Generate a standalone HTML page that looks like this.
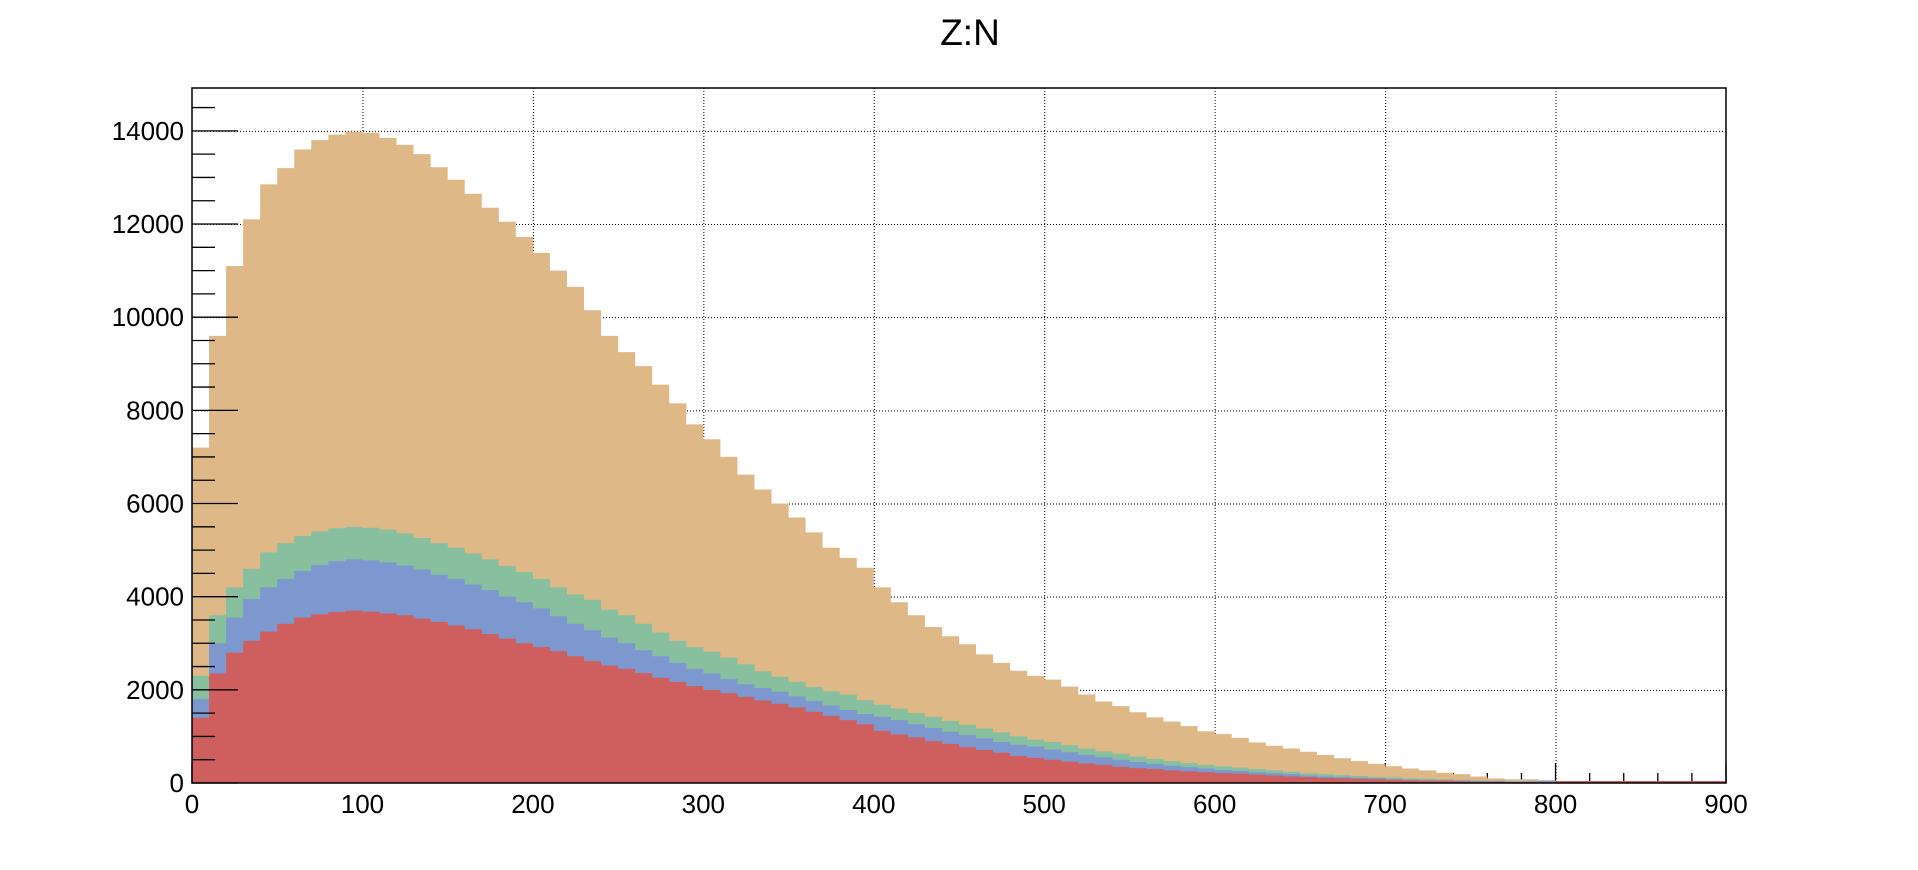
<!DOCTYPE html>
<html><head><meta charset="utf-8"><title>Z:N</title>
<style>
html,body{margin:0;padding:0;background:#fff;}
svg{display:block;font-family:"Liberation Sans",Arial,sans-serif;}
</style></head>
<body>
<svg id="chart" width="1918" height="870" viewBox="0 0 1918 870">
<text x="970" y="45" font-size="37" text-anchor="middle" fill="#000">Z:N</text>
<g id="grid"></g>
<g id="xticks"></g>
<g id="bars"></g>
<g id="axes"></g>
</svg>
<script>
// Bin edges: 10-unit bins from 0 to 800. Values in thousands of entries, cumulative stack tops.
const binStart = 0;
const binWidth = 10;
const stackOrange = [7.2,9.6,11.1,12.1,12.85,13.2,13.6,13.8,13.92,13.98,13.96,13.85,13.7,13.5,13.22,12.95,12.65,12.35,12.05,11.72,11.38,11.0,10.65,10.15,9.6,9.25,8.95,8.55,8.15,7.7,7.38,7.0,6.62,6.3,6.0,5.7,5.38,5.05,4.83,4.62,4.2,3.88,3.6,3.35,3.15,2.98,2.76,2.58,2.41,2.3,2.22,2.07,1.9,1.75,1.65,1.52,1.41,1.32,1.22,1.11,1.05,0.97,0.87,0.8,0.74,0.67,0.6,0.53,0.47,0.41,0.36,0.31,0.27,0.22,0.19,0.14,0.1,0.08,0.08,0.06];
const stackGreen = [2.3,3.6,4.2,4.6,4.95,5.15,5.3,5.4,5.47,5.5,5.48,5.44,5.36,5.26,5.15,5.05,4.93,4.8,4.66,4.53,4.38,4.2,4.05,3.93,3.72,3.6,3.42,3.23,3.05,2.92,2.82,2.69,2.55,2.4,2.28,2.17,2.06,1.97,1.9,1.78,1.68,1.6,1.5,1.42,1.33,1.25,1.17,1.09,1.0,0.93,0.88,0.81,0.74,0.68,0.63,0.57,0.52,0.47,0.43,0.39,0.36,0.33,0.3,0.27,0.24,0.21,0.19,0.17,0.15,0.13,0.12,0.1,0.09,0.08,0.07,0.06,0.05,0.04,0.04,0.03];
const stackBlue = [1.8,3.0,3.55,3.95,4.2,4.38,4.55,4.68,4.76,4.8,4.78,4.74,4.67,4.58,4.47,4.38,4.26,4.14,4.0,3.88,3.75,3.58,3.42,3.28,3.12,3.0,2.85,2.72,2.58,2.45,2.35,2.23,2.12,2.04,1.96,1.86,1.76,1.66,1.57,1.48,1.42,1.35,1.26,1.18,1.1,1.03,0.96,0.88,0.82,0.78,0.72,0.66,0.6,0.55,0.5,0.45,0.41,0.37,0.34,0.31,0.28,0.26,0.23,0.21,0.19,0.16,0.14,0.13,0.11,0.1,0.08,0.07,0.06,0.06,0.05,0.04,0.04,0.03,0.04,0.05];
const stackRed = [1.4,2.35,2.8,3.05,3.25,3.42,3.55,3.62,3.67,3.7,3.68,3.64,3.6,3.53,3.46,3.38,3.3,3.2,3.1,3.0,2.92,2.83,2.72,2.62,2.52,2.45,2.36,2.26,2.17,2.08,2.0,1.93,1.85,1.77,1.7,1.62,1.53,1.44,1.35,1.26,1.12,1.04,0.98,0.9,0.84,0.77,0.71,0.65,0.58,0.54,0.5,0.46,0.42,0.39,0.35,0.32,0.3,0.27,0.25,0.23,0.21,0.2,0.18,0.16,0.14,0.13,0.11,0.1,0.09,0.08,0.07,0.06,0.05,0.05,0.04,0.03,0.03,0.02,0.02,0.02];
const xTicks = [0,100,200,300,400,500,600,700,800,900];
const yTicks = [0,2000,4000,6000,8000,10000,12000,14000];
const UNIT = 1000;

const X0=192, X1=1726, Y0=783, Y1=88;
const XMIN=0, XMAX=900, YMIN=0, YMAX=14920;
const sx = v => X0 + (v-XMIN)/(XMAX-XMIN)*(X1-X0);
const sy = v => Y0 - (v-YMIN)/(YMAX-YMIN)*(Y0-Y1);
const NS='http://www.w3.org/2000/svg';
function mk(tag, parent){const e=document.createElementNS(NS,tag);parent.appendChild(e);return e;}

const grid=document.getElementById('grid');
xTicks.forEach(t=>{ if(t===XMIN||t===XMAX) return;
  const l=mk('line',grid);
  l.setAttribute('x1',sx(t)+0.5);l.setAttribute('x2',sx(t)+0.5);l.setAttribute('y1',Y1);l.setAttribute('y2',Y0);
  l.setAttribute('stroke','#000');l.setAttribute('stroke-width','1');l.setAttribute('stroke-dasharray','1 2');
  
  
});
yTicks.forEach(t=>{ if(t===YMIN) return;
  const l=mk('line',grid);
  l.setAttribute('x1',X0);l.setAttribute('x2',X1);l.setAttribute('y1',sy(t)+0.5);l.setAttribute('y2',sy(t)+0.5);
  l.setAttribute('stroke','#000');l.setAttribute('stroke-width','1');l.setAttribute('stroke-dasharray','1 2');
  
  
});

const xt=document.getElementById('xticks');
for(let v=0; v<=XMAX; v+=20){
  const major=(v%100===0);
  const l=mk('line',xt);
  l.setAttribute('x1',sx(v));l.setAttribute('x2',sx(v));l.setAttribute('y1',Y0);l.setAttribute('y2',Y0-(major?20:10));
  l.setAttribute('stroke','#000');l.setAttribute('stroke-width','1.3');
  
  
}

const bars=document.getElementById('bars');
const series=[
 {vals:stackOrange,color:'#deb887',name:'histogram-orange'},
 {vals:stackGreen,color:'#87bf9f',name:'histogram-green'},
 {vals:stackBlue,color:'#7c98cf',name:'histogram-blue'},
 {vals:stackRed,color:'#cf5e5f',name:'histogram-red'}
];
series.forEach(s=>{
  let d='M'+sx(binStart)+','+sy(0);
  s.vals.forEach((v,i)=>{
    const xa=sx(binStart+i*binWidth), xb=sx(binStart+(i+1)*binWidth), y=sy(v*UNIT);
    d+=' L'+xa.toFixed(2)+','+y.toFixed(2)+' L'+xb.toFixed(2)+','+y.toFixed(2);
  });
  d+=' L'+sx(binStart+s.vals.length*binWidth)+','+sy(0)+' Z';
  const p=mk('path',bars);
  p.setAttribute('d',d);p.setAttribute('fill',s.color);p.setAttribute('stroke','none');
  
  
});
const bl=mk('line',bars);
bl.setAttribute('x1',sx(800));bl.setAttribute('x2',X1);bl.setAttribute('y1',Y0-1);bl.setAttribute('y2',Y0-1);
bl.setAttribute('stroke','#cf5e5f');bl.setAttribute('stroke-width','2');



const axes=document.getElementById('axes');
const fr=mk('rect',axes);
fr.setAttribute('x',X0);fr.setAttribute('y',Y1);fr.setAttribute('width',X1-X0);fr.setAttribute('height',Y0-Y1);
fr.setAttribute('fill','none');fr.setAttribute('stroke','#000');fr.setAttribute('stroke-width','1.5');


for(let v=0; v<=YMAX; v+=500){
  const major=(v%2000===0);
  const l=mk('line',axes);
  l.setAttribute('x1',X0);l.setAttribute('x2',X0+(major?46:23));l.setAttribute('y1',sy(v));l.setAttribute('y2',sy(v));
  l.setAttribute('stroke','#000');l.setAttribute('stroke-width','1.3');
  
  
}
yTicks.forEach(t=>{
  const tx=mk('text',axes);
  tx.setAttribute('x',184);tx.setAttribute('y',sy(t)+9);tx.setAttribute('font-size','26');tx.setAttribute('text-anchor','end');
  tx.textContent=String(t);
  
  
});
xTicks.forEach(t=>{
  const tx=mk('text',axes);
  tx.setAttribute('x',sx(t));tx.setAttribute('y',813);tx.setAttribute('font-size','26');tx.setAttribute('text-anchor','middle');
  tx.textContent=String(t);
  
  
});
</script>
</body></html>
